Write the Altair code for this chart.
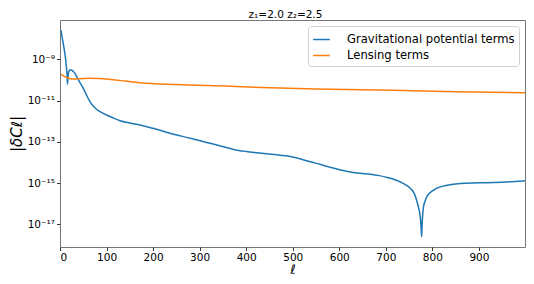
import altair as alt
import pandas as pd

grav_ell = [2, 6, 9, 11, 13, 15, 16, 17, 18, 20, 23, 26, 30, 35, 39, 44, 50, 57, 64, 71,
            79, 90, 100, 115, 129, 150, 172, 200, 244, 280, 315, 345, 373, 400, 423, 452,
            473, 495, 515, 538, 560, 581, 603, 624, 645, 667, 686, 703, 724, 740, 753, 762,
            767, 771, 773, 775, 776, 777, 778, 779, 781, 784, 788, 795, 803, 815, 832, 860,
            900, 932, 970, 999]
grav_val = [2.63e-8, 7.94e-9, 3.16e-9, 1.58e-9, 6.3e-10, 2.0e-10, 6.3e-11, 1.26e-10,
            2.1e-10, 2.82e-10, 3.16e-10, 2.95e-10, 2.4e-10, 1.58e-10, 1.07e-10, 6.8e-11,
            3.9e-11, 1.86e-11, 9.1e-12, 5.6e-12, 3.7e-12, 2.63e-12, 2.0e-12, 1.41e-12,
            1.05e-12, 8.1e-13, 6.5e-13, 4.5e-13, 2.34e-13, 1.48e-13, 9.3e-14, 6.3e-14,
            4.27e-14, 3.4e-14, 2.95e-14, 2.51e-14, 2.24e-14, 1.95e-14, 1.51e-14, 1.07e-14,
            7.9e-15, 5.75e-15, 4.27e-15, 3.47e-15, 3.0e-15, 2.69e-15, 2.29e-15, 1.86e-15,
            1.32e-15, 8.9e-16, 5.5e-16, 2.82e-16, 1.23e-16, 5.6e-17, 3.3e-17, 1.26e-17,
            5.6e-18, 2.5e-18, 1.0e-17, 2.5e-17, 7.1e-17, 1.26e-16, 2.14e-16, 3.4e-16,
            4.6e-16, 6.3e-16, 7.9e-16, 9.5e-16, 1.02e-15, 1.07e-15, 1.17e-15, 1.29e-15]

lens_ell = [2, 8, 15, 22, 29, 40, 64, 85, 110, 140, 172, 250, 366, 452, 550, 716, 850, 999]
lens_val = [1.86e-10, 1.55e-10, 1.29e-10, 1.15e-10, 1.1e-10, 1.15e-10, 1.2e-10, 1.17e-10,
            1.05e-10, 8.9e-11, 7.4e-11, 6.0e-11, 5.0e-11, 4.17e-11, 3.63e-11, 3.16e-11,
            2.69e-11, 2.4e-11]

series_names = ["Gravitational potential terms", "Lensing terms"]
series_colors = ["#1f77b4", "#ff7f0e"]

y_ticks = [1e-17, 1e-15, 1e-13, 1e-11, 1e-9]
y_tick_labels = ["10⁻¹⁷", "10⁻¹⁵", "10⁻¹³", "10⁻¹¹", "10⁻⁹"]
y_exponents = [-17, -15, -13, -11, -9]
x_ticks = [0, 100, 200, 300, 400, 500, 600, 700, 800, 900]

df = pd.concat([
    pd.DataFrame({"ell": grav_ell, "val": grav_val, "series": series_names[0], "order": 0}),
    pd.DataFrame({"ell": lens_ell, "val": lens_val, "series": series_names[1], "order": 1}),
])

exp_of = "round(log(datum.value)/LN10)"
label_expr = "''"
for e, lab in zip(y_exponents, y_tick_labels):
    label_expr = f"({exp_of}=={e}) ? '{lab}' : " + label_expr

chart = alt.Chart(df).mark_line(strokeWidth=1.5, clip=True, interpolate="monotone").encode(
    x=alt.X("ell:Q", scale=alt.Scale(domain=[0, 999], nice=False, zero=False),
            axis=alt.Axis(values=x_ticks, title="ℓ", grid=False, domain=False,
                          tickColor="#333", tickSize=3.5, labelFontSize=10.5,
                          labelColor="#000", labelFont="DejaVu Sans", labelPadding=2,
                          titleFont="DejaVu Sans", titleFontSize=13, titleFontStyle="italic",
                          titleFontWeight="normal", titlePadding=0, titleColor="#000")),
    y=alt.Y("val:Q", scale=alt.Scale(type="log", domain=[7.9e-19, 8.1e-8], nice=False),
            axis=alt.Axis(values=y_ticks, labelExpr=label_expr, title="|δCℓ|", grid=False,
                          domain=False, tickColor="#333", tickSize=3.5, labelFontSize=10.5,
                          labelColor="#000", labelFont="DejaVu Sans", labelPadding=2,
                          titleFont="DejaVu Sans", titleFontSize=15, titleFontStyle="italic",
                          titleFontWeight="normal", titlePadding=3, titleColor="#000")),
    color=alt.Color("series:N", sort=series_names,
                    scale=alt.Scale(domain=series_names, range=series_colors),
                    legend=alt.Legend(title=None, orient="top-right", offset=6,
                                      symbolType="stroke", symbolSize=279, symbolStrokeWidth=1.5,
                                      labelFontSize=11.6, labelFont="DejaVu Sans",
                                      labelColor="#000", labelOffset=16, symbolOffset=0,
                                      labelLimit=400, padding=4, rowPadding=0,
                                      strokeColor="#d0d0d0",
                                      fillColor="rgba(255,255,255,0.85)", cornerRadius=3)),
    order="order:Q",
).properties(
    width=465, height=227,
    title=alt.Title("z₁=2.0 z₂=2.5", fontSize=10.5, font="DejaVu Sans", fontWeight="normal",
                    color="#000", offset=0, anchor="middle", dx=-7),
    autosize=alt.AutoSizeParams(type="none"),
    padding={"left": 52, "top": 12, "right": 1, "bottom": 29},
).configure_view(stroke="#777", strokeWidth=1)

chart.save("out.html", embed_options={"renderer": "svg", "actions": False})
